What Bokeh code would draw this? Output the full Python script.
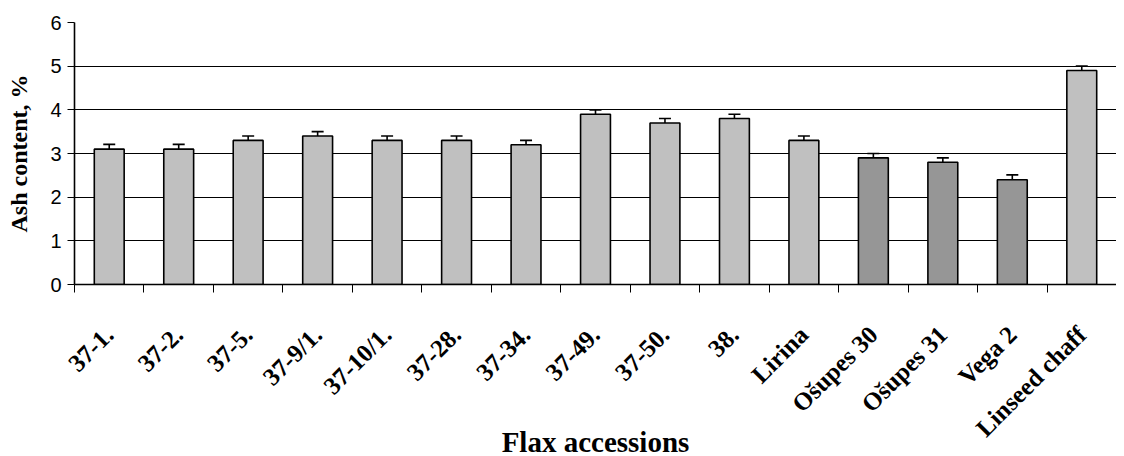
import math
from bokeh.plotting import figure
from bokeh.models import ColumnDataSource, Whisker, TeeHead, FixedTicker, CustomJSTickFormatter, Range1d
from bokeh.embed import file_html
from bokeh.resources import INLINE

categories = ["37-1.", "37-2.", "37-5.", "37-9/1.", "37-10/1.", "37-28.", "37-34.", "37-49.",
              "37-50.", "38.", "Lirina", "Ošupes 30", "Ošupes 31", "Vega 2", "Linseed chaff"]
ash = [3.1, 3.1, 3.3, 3.4, 3.3, 3.3, 3.2, 3.9, 3.7, 3.8, 3.3, 2.9, 2.8, 2.4, 4.9]
err = [0.11, 0.11, 0.1, 0.1, 0.1, 0.1, 0.1, 0.1, 0.1, 0.1, 0.1, 0.1, 0.1, 0.11, 0.1]
group = ["line", "line", "line", "line", "line", "line", "line", "line", "line", "line",
         "line", "variety", "variety", "variety", "chaff"]
colors_map = {"line": "#C0C0C0", "variety": "#969696", "chaff": "#C0C0C0"}
y_ticks = [0, 1, 2, 3, 4, 5, 6]

xs = [i + 0.5 for i in range(len(categories))]
src = ColumnDataSource(dict(
    x=xs, top=ash,
    upper=[a + e for a, e in zip(ash, err)],
    lower=[a - e for a, e in zip(ash, err)],
    color=[colors_map[g] for g in group],
))

p = figure(frame_width=1042, frame_height=262, output_backend="svg", toolbar_location=None,
           x_range=Range1d(0, len(categories)), y_range=Range1d(0, 6),
           min_border_left=74, min_border_right=0, min_border_top=22, min_border_bottom=0)
p.outline_line_color = None
p.background_fill_color = "white"
p.border_fill_color = "white"

p.vbar(x="x", top="top", width=0.43, source=src, fill_color="color",
       line_color="black", line_width=1.6)

w = Whisker(source=src, base="x", upper="upper", lower="lower", line_color="black", line_width=1.6,
            upper_head=TeeHead(size=12, line_color="black", line_width=1.6),
            lower_head=TeeHead(size=12, line_color="black", line_width=1.6))
p.add_layout(w)

# y axis
p.yaxis.ticker = FixedTicker(ticks=y_ticks)
p.yaxis.major_label_text_font = "Liberation Sans"
p.yaxis.major_label_text_font_size = "20px"
p.yaxis.major_label_text_color = "black"
p.yaxis.major_label_standoff = 6
p.yaxis.axis_line_color = "black"
p.yaxis.axis_line_width = 1.6
p.yaxis.major_tick_in = 0
p.yaxis.major_tick_out = 7
p.yaxis.major_tick_line_color = "black"
p.yaxis.minor_tick_line_color = None
p.yaxis.axis_label = "Ash content, %"
p.yaxis.axis_label_text_font = "Liberation Serif"
p.yaxis.axis_label_text_font_style = "bold"
p.yaxis.axis_label_text_font_size = "24px"
p.yaxis.axis_label_text_color = "black"
p.yaxis.axis_label_standoff = 15

# x axis
p.xaxis.ticker = FixedTicker(ticks=xs, minor_ticks=list(range(len(categories) + 1)))
p.xaxis.formatter = CustomJSTickFormatter(args=dict(labels=categories),
                                          code="return labels[Math.floor(tick)];")
p.xaxis.major_label_orientation = math.pi / 4
p.xaxis.major_label_text_font = "Liberation Serif"
p.xaxis.major_label_text_font_style = "bold"
p.xaxis.major_label_text_font_size = "25px"
p.xaxis.major_label_text_color = "black"
p.xaxis.major_label_standoff = 38
p.xaxis.major_tick_in = 0
p.xaxis.major_tick_out = 0
p.xaxis.minor_tick_in = 0
p.xaxis.minor_tick_out = 8
p.xaxis.minor_tick_line_color = "black"
p.xaxis.axis_line_color = "black"
p.xaxis.axis_line_width = 1.6
p.xaxis.axis_label = "Flax accessions"
p.xaxis.axis_label_text_font = "Liberation Serif"
p.xaxis.axis_label_text_font_style = "bold"
p.xaxis.axis_label_text_font_size = "29px"
p.xaxis.axis_label_text_color = "black"
p.xaxis.axis_label_standoff = -28

p.xgrid.grid_line_color = None
p.ygrid.grid_line_color = "black"
p.ygrid.grid_line_width = 1
p.ygrid.grid_line_alpha = 1

open("out.html", "w").write(file_html(p, INLINE))
